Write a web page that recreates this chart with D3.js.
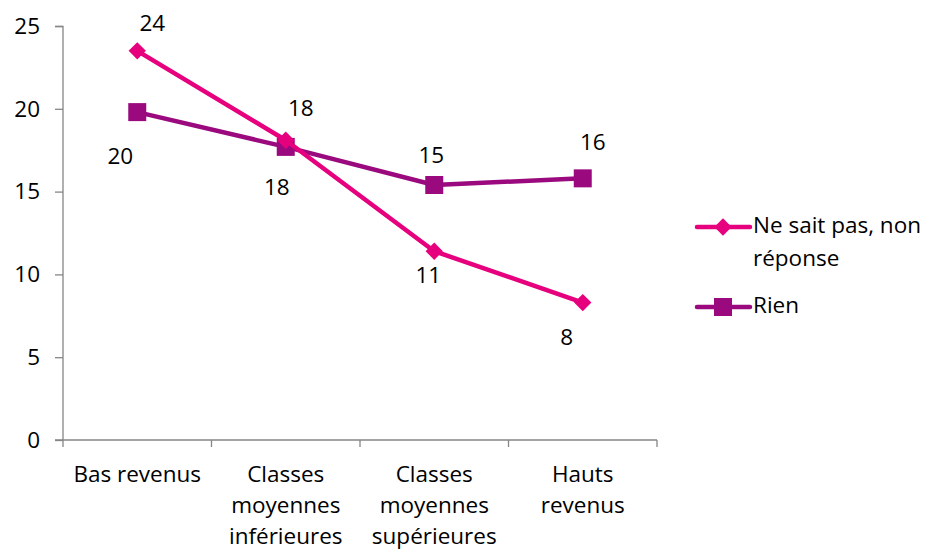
<!DOCTYPE html>
<html><head><meta charset="utf-8">
<script src="https://cdn.jsdelivr.net/npm/d3@7"></script>
<style>body{margin:0;background:#fff}svg{display:block}text{font-family:"Open Sans",sans-serif;fill:#000}</style>
</head><body><div id="chart"></div>
<script>
const categories = [["Bas revenus"], ["Classes", "moyennes", "inférieures"], ["Classes", "moyennes", "supérieures"], ["Hauts", "revenus"]];
const seriesNames = ["Ne sait pas, non réponse", "Rien"];
const nspValues = [23.5, 18.1, 11.4, 8.3];
const rienValues = [19.8, 17.7, 15.4, 15.8];
const nspLabels = ["24", "18", "11", "8"];
const rienLabels = ["20", "18", "15", "16"];
const yTicks = [0, 5, 10, 15, 20, 25];

// label placement (style only): dx, dy from point
const nspLabelPos = [[15, -26], [15, -30], [-6, 26], [-16, 36]];
const rienLabelPos = [[-17, 46], [-9, 42], [-3, -28], [10, -34]];

const W = 930, H = 551;
const FS = "22.5px";
const svg = d3.select("#chart").append("svg").attr("width", W).attr("height", H);
const x = d3.scaleBand().domain(d3.range(4)).range([63, 657]).padding(0);
const y = d3.scaleLinear().domain([0, 25]).range([440, 26]);
const axisColor = "#868686";

// Y axis
const ya = svg.append("g").attr("transform", "translate(63,0)")
  .call(d3.axisLeft(y).tickValues(yTicks).tickSize(8).tickPadding(15));
ya.select(".domain").attr("stroke", axisColor).attr("stroke-width", 1.3).attr("d", "M-8,26.5H0V440");
ya.selectAll(".tick line").attr("stroke", axisColor).attr("stroke-width", 1.3);
ya.selectAll(".tick text").style("font-size", FS).attr("fill", "#000").attr("font-family", null);

// X axis
const xa = svg.append("g").attr("transform", "translate(0,440)")
  .call(d3.axisBottom(x).tickSize(0).tickFormat(""));
xa.select(".domain").attr("stroke", axisColor).attr("stroke-width", 1.3).attr("d", "M55,0H657");
const bounds = d3.range(5).map(i => i < 4 ? x(i) : x(3) + x.bandwidth());
xa.selectAll(".bt").data(bounds).enter().append("line")
  .attr("x1", d => d).attr("x2", d => d).attr("y1", 0).attr("y2", 7)
  .attr("stroke", axisColor).attr("stroke-width", 1.3);
categories.forEach((lines, i) => {
  const t = svg.append("text").attr("text-anchor", "middle").style("font-size", FS)
    .attr("x", x(i) + x.bandwidth() / 2).attr("y", 482);
  lines.forEach((l, j) => t.append("tspan").attr("x", x(i) + x.bandwidth() / 2).attr("dy", j ? 31 : 0).text(l));
});

const cx = i => x(i) + x.bandwidth() / 2;
const line = d3.line().x((d, i) => cx(i)).y(d => y(d));
const pink = "#E6007E", purple = "#9A0A7E";

function drawSeries(vals, color, size, rot) {
  svg.append("path").datum(vals).attr("d", line).attr("fill", "none")
    .attr("stroke", color).attr("stroke-width", 4.5).attr("stroke-linejoin", "round");
  svg.selectAll(null).data(vals).enter().append("path")
    .attr("transform", (d, i) => `translate(${cx(i)},${y(d)}) rotate(${rot})`)
    .attr("d", d3.symbol().type(d3.symbolSquare).size(size)).attr("fill", color);
}
drawSeries(rienValues, purple, 324, 0);
drawSeries(nspValues, pink, 150, 45);

function drawLabels(vals, labels, pos) {
  svg.selectAll(null).data(vals).enter().append("text")
    .attr("x", (d, i) => cx(i) + pos[i][0]).attr("y", (d, i) => y(d) + pos[i][1])
    .attr("text-anchor", "middle").attr("dominant-baseline", "middle")
    .style("font-size", FS).text((d, i) => labels[i]);
}
drawLabels(nspValues, nspLabels, nspLabelPos);
drawLabels(rienValues, rienLabels, rienLabelPos);

// Legend
const lg = svg.append("g");
const leg = [
  { name: ["Ne sait pas, non", "réponse"], color: pink, size: 150, rot: 45, y: 227 },
  { name: ["Rien"], color: purple, size: 324, rot: 0, y: 307 }
];
leg.forEach(l => {
  lg.append("line").attr("x1", 697).attr("x2", 750).attr("y1", l.y).attr("y2", l.y)
    .attr("stroke", l.color).attr("stroke-width", 4.5).attr("stroke-linecap", "round");
  lg.append("path").attr("transform", `translate(723,${l.y}) rotate(${l.rot})`)
    .attr("d", d3.symbol().type(d3.symbolSquare).size(l.size)).attr("fill", l.color);
  const t = lg.append("text").attr("x", 753).attr("y", l.y).attr("dominant-baseline", "middle").style("font-size", FS);
  l.name.forEach((n, j) => t.append("tspan").attr("x", 753).attr("dy", j ? 33 : 0).text(n));
});
</script></body></html>
